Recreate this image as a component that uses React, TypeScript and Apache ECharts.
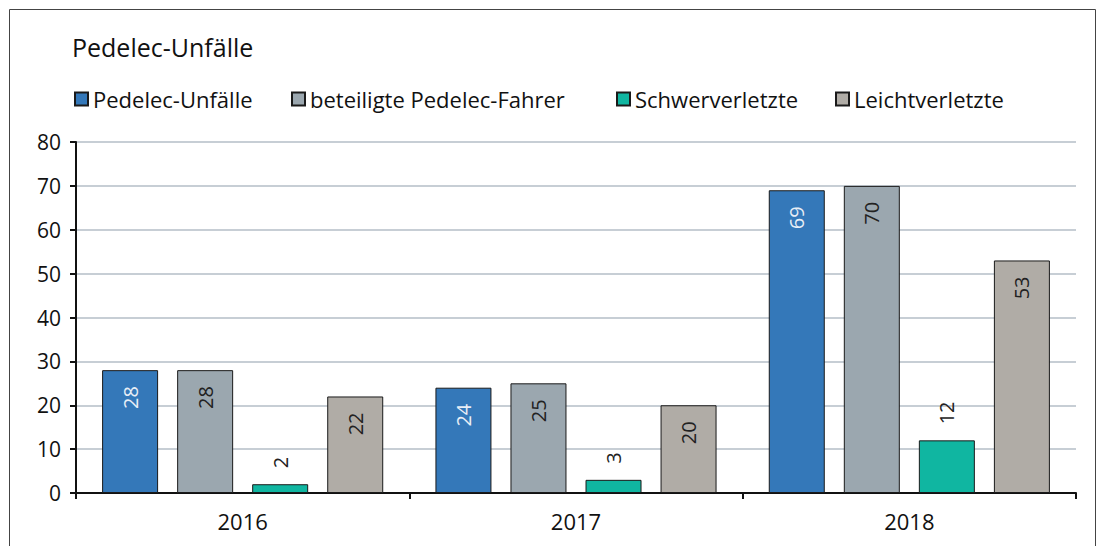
import React, { useEffect, useRef } from "react";
import * as echarts from "echarts";

const categories = ["2016", "2017", "2018"];
const seriesNames = ["Pedelec-Unfälle", "beteiligte Pedelec-Fahrer", "Schwerverletzte", "Leichtverletzte"];
const unfaelle = [28, 24, 69];
const fahrer = [28, 25, 70];
const schwer = [2, 3, 12];
const leicht = [22, 20, 53];
const colors = ["#3478b9", "#9ba7af", "#10b6a1", "#b0aca6"];
const labelColors = ["#e8eef6", "#222222", "#222222", "#222222"];
const legendLefts = [69, 286, 611, 830];

const FONT = "Open Sans";

export default function App() {
  const ref = useRef<HTMLDivElement>(null);
  useEffect(() => {
    const chart = echarts.init(ref.current!, null, { renderer: "svg" });
    const data = [unfaelle, fahrer, schwer, leicht];
    chart.setOption({
      animation: false,
      textStyle: { fontFamily: FONT },
      title: {
        text: "Pedelec-Unfälle",
        left: 67,
        top: 29,
        textStyle: { fontFamily: FONT, fontSize: 25, fontWeight: "normal", color: "#111" },
      },
      legend: seriesNames.map((name, i) => ({
        left: legendLefts[i],
        top: 83,
        itemWidth: 13,
        itemHeight: 13,
        itemGap: 0,
        icon: "rect",
        textStyle: { fontFamily: FONT, fontSize: 22, color: "#111" },
        data: [name],
      })),
      graphic: [
        {
          type: "rect",
          shape: { x: 9.5, y: 9.5, width: 1086, height: 600 },
          style: { fill: "none", stroke: "#444", lineWidth: 1 },
          silent: true,
        },
      ],
      grid: { left: 76, right: 21, top: 142, bottom: 53 },
      xAxis: {
        type: "category",
        data: categories,
        axisLine: { lineStyle: { color: "#111", width: 2 } },
        axisTick: { show: true, length: 6, lineStyle: { color: "#111", width: 2 } },
        axisLabel: { fontFamily: FONT, fontSize: 22, color: "#111", margin: 17 },
      },
      yAxis: {
        type: "value",
        min: 0,
        max: 80,
        interval: 10,
        axisLine: { show: true, lineStyle: { color: "#111", width: 2 } },
        axisTick: { show: true, length: 6, lineStyle: { color: "#111", width: 2 } },
        axisLabel: { fontFamily: FONT, fontSize: 21, color: "#111", margin: 15 },
        splitLine: { lineStyle: { color: "#b4bec7", width: 1.5 } },
      },
      series: seriesNames.map((name, i) => ({
        name,
        type: "bar",
        data: data[i],
        barWidth: 56,
        barGap: "34%",
        itemStyle: { color: colors[i], borderColor: "#1a1a1a", borderWidth: 1 },
        label: {
          show: true,
          rotate: 90,
          position: i === 2 ? "top" : "insideTop",
          distance: 16,
          align: i === 2 ? "left" : "right",
          verticalAlign: "middle",
          fontFamily: FONT,
          fontSize: 20,
          color: labelColors[i],
        },
      })),
    });
    return () => chart.dispose();
  }, []);
  return (
    <div
      ref={ref}
      style={{ position: "fixed", left: 0, top: 0, width: 1097, height: 546, background: "#fff" }}
    />
  );
}
